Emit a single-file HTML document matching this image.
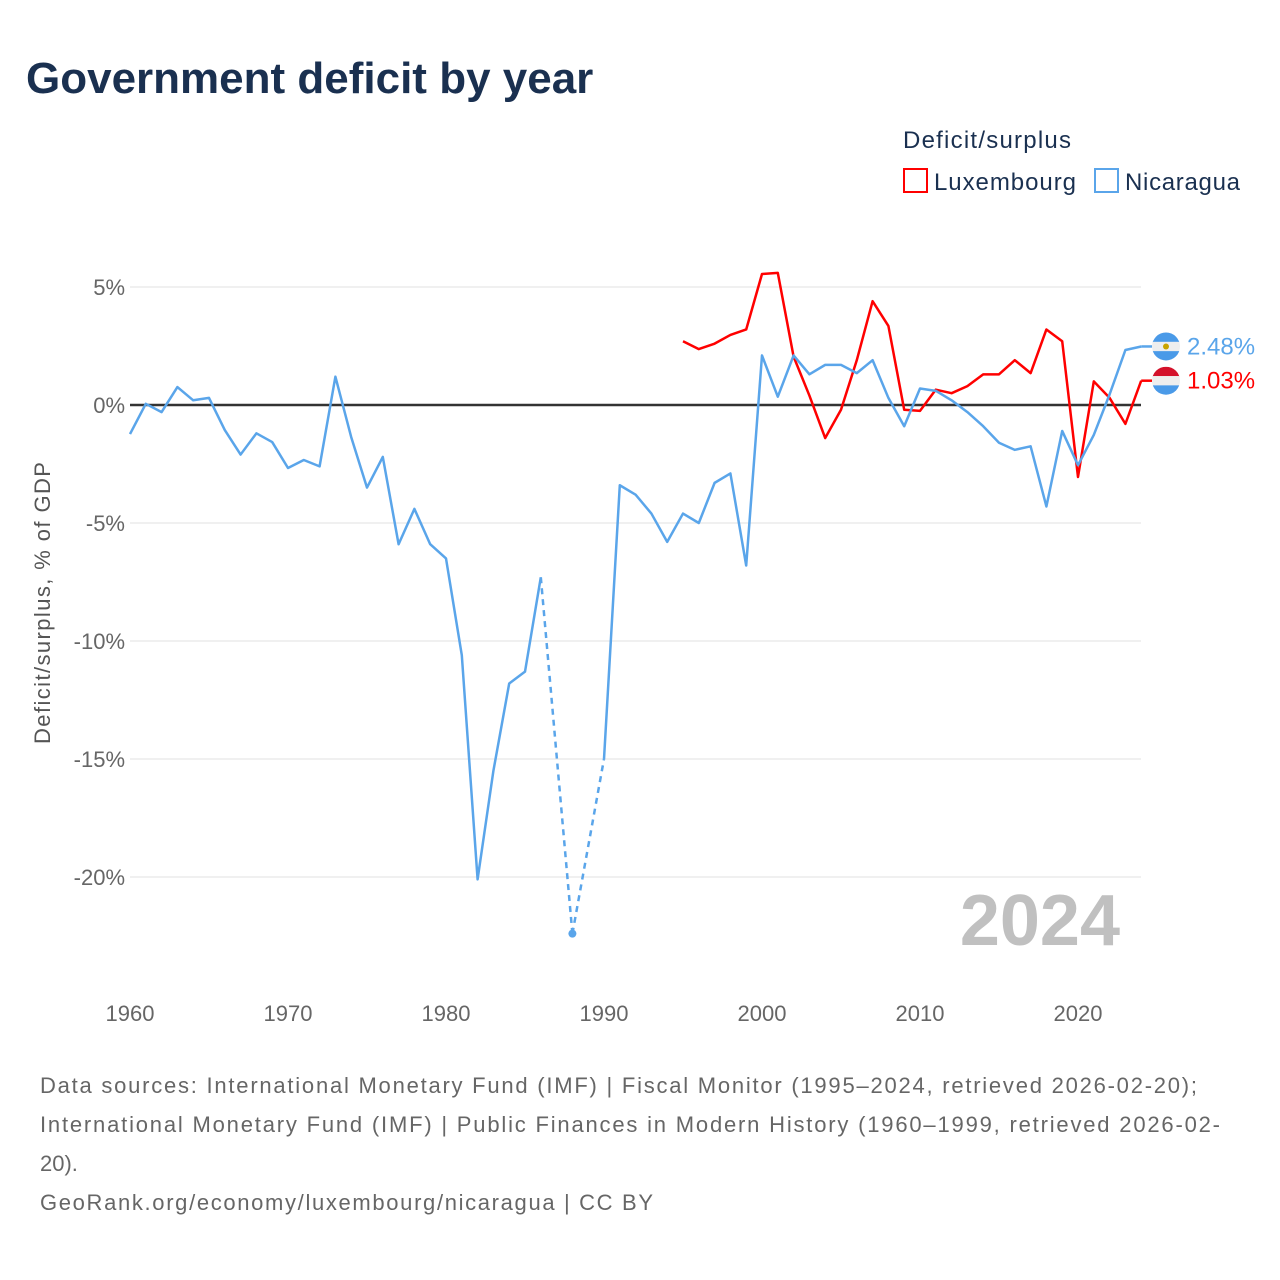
<!DOCTYPE html>
<html><head><meta charset="utf-8"><style>
body{margin:0;background:#fff;font-family:"Liberation Sans",sans-serif;}
#wrap{position:relative;width:1280px;height:1280px;overflow:hidden;}
</style></head><body><div id="wrap">
<svg id="chart" width="1280" height="1280" xmlns="http://www.w3.org/2000/svg">
<text x="26" y="93" font-size="44" font-weight="bold" fill="#1a3050">Government deficit by year</text>
<text x="903" y="148" font-size="24" fill="#1a3050" textLength="168">Deficit/surplus</text>
<g><rect x="904" y="169" width="23" height="23" fill="none" stroke="#ff0000" stroke-width="2"/><text x="934" y="190" font-size="24" fill="#1a3050" textLength="142">Luxembourg</text></g>
<g><rect x="1095" y="169" width="23" height="23" fill="none" stroke="#5aa5ea" stroke-width="2"/><text x="1125" y="190" font-size="24" fill="#1a3050" textLength="115">Nicaragua</text></g>
<text transform="translate(50,603) rotate(-90)" text-anchor="middle" font-size="22" fill="#555" textLength="282">Deficit/surplus, % of GDP</text>
<text x="1120" y="945" text-anchor="end" font-size="72" font-weight="bold" fill="#c0c0c0">2024</text>
<g id="grid"></g><g id="series"></g>
<g font-size="22" fill="#666">
<text x="40" y="1093" textLength="1157">Data sources: International Monetary Fund (IMF) | Fiscal Monitor (1995–2024, retrieved 2026-02-20);</text>
<text x="40" y="1132" textLength="1180">International Monetary Fund (IMF) | Public Finances in Modern History (1960–1999, retrieved 2026-02-</text>
<text x="40" y="1171">20).</text>
<text x="40" y="1210" textLength="613">GeoRank.org/economy/luxembourg/nicaragua | CC BY</text>
</g>
</svg></div>
<script>
const years=[];for(let y=1960;y<=2024;y++)years.push(y);
const yTicks=[5,0,-5,-10,-15,-20];
const xTicks=[1960,1970,1980,1990,2000,2010,2020];
const nicaragua=[-1.23,0.05,-0.3,0.76,0.2,0.3,-1.06,-2.1,-1.2,-1.57,-2.67,-2.33,-2.6,1.2,-1.36,-3.5,-2.2,-5.9,-4.4,-5.9,-6.5,-10.6,-20.1,-15.5,-11.8,-11.3,-7.3,null,-22.4,null,-15.0,-3.4,-3.8,-4.6,-5.8,-4.6,-5.0,-3.3,-2.9,-6.8,2.1,0.35,2.1,1.3,1.7,1.7,1.35,1.9,0.3,-0.9,0.7,0.6,0.2,-0.3,-0.9,-1.6,-1.9,-1.75,-4.3,-1.1,-2.55,-1.27,0.45,2.33,2.48];
const luxYears=[];for(let y=1995;y<=2024;y++)luxYears.push(y);
const luxembourg=[2.7,2.37,2.6,2.97,3.2,5.55,5.6,2.05,0.4,-1.4,-0.2,1.9,4.4,3.35,-0.2,-0.25,0.65,0.5,0.8,1.3,1.3,1.9,1.35,3.2,2.7,-3.05,1.0,0.3,-0.8,1.03];
const X=y=>130+15.8*(y-1960), Y=v=>405-23.6*v;
const NS="http://www.w3.org/2000/svg";
function mk(t,a,p){const e=document.createElementNS(NS,t);for(const k in a)e.setAttribute(k,a[k]);p.appendChild(e);return e;}
const grid=document.getElementById('grid'), ser=document.getElementById('series');
yTicks.forEach(v=>{
 const l=mk('line',{x1:130,x2:1141,y1:Y(v),y2:Y(v),stroke:v===0?'#333':'#e6e6e6','stroke-width':v===0?2.5:1.2},grid);
 
 
 const t=mk('text',{x:125,y:Y(v)+8,'text-anchor':'end','font-size':22,fill:'#666'},grid);
 t.textContent=v+'%';
 
 
});
xTicks.forEach(y=>{
 const t=mk('text',{x:X(y),y:1021,'text-anchor':'middle','font-size':22,fill:'#666'},grid);
 t.textContent=y;
 
 
});
function draw(xs,vals,color,name){
 let segs=[],cur=[];
 xs.forEach((y,i)=>{if(vals[i]==null){if(cur.length)segs.push(cur);cur=[];}else cur.push([X(y),Y(vals[i])]);});
 if(cur.length)segs.push(cur);
 segs.forEach(s=>{if(s.length>1){const p=mk('path',{d:'M'+s.map(q=>q.join(',')).join('L'),fill:'none',stroke:color,'stroke-width':2.5,'stroke-linejoin':'round'},ser);
  
  }});
 for(let i=1;i<xs.length;i++){if(vals[i]!=null){let j=i-1;if(vals[j]==null){while(j>=0&&vals[j]==null)j--;if(j>=0){const d=mk('line',{x1:X(xs[j]),y1:Y(vals[j]),x2:X(xs[i]),y2:Y(vals[i]),stroke:color,'stroke-width':2.5,'stroke-dasharray':'6,5'},ser);
  
  
  if(i+1<xs.length&&vals[i+1]==null&&vals[i-1]==null){const c=mk('circle',{cx:X(xs[i]),cy:Y(vals[i]),r:4,fill:color},ser);
  
  }}}}}
 const lv=vals[vals.length-1];
 const e=mk('line',{x1:X(xs[xs.length-1]),y1:Y(lv),x2:1152,y2:Y(lv),stroke:color,'stroke-width':2.5},ser);
 
 
}
draw(luxYears,luxembourg,'#ff0000','luxembourg');
draw(years,nicaragua,'#5aa5ea','nicaragua');
function endLabel(v,color,name,flag){
 const g=mk('g',{},ser);
 
 
 const cy=Y(v), cx=1166;
 mk('clipPath',{id:'c'+name},g).appendChild(document.createElementNS(NS,'circle')).setAttribute('r',0);
 const cl=document.getElementById('c'+name).firstChild;cl.setAttribute('cx',cx);cl.setAttribute('cy',cy);cl.setAttribute('r',14);
 const stripes=flag==='lu'?['#d4122b','#eeeeee','#4a9ae8']:['#4a9ae8','#eeeeee','#4a9ae8'];
 stripes.forEach((c,i)=>mk('rect',{x:cx-14,y:cy-14+i*28/3,width:28,height:28/3+0.5,fill:c,'clip-path':'url(#c'+name+')'},g));
 if(flag==='ni')mk('circle',{cx:cx,cy:cy,r:3,fill:'#c9a400'},g);
 const t=mk('text',{x:1187,y:cy+8,'font-size':24,fill:color},g);
 t.textContent=v.toFixed(2)+'%';
}
endLabel(nicaragua[nicaragua.length-1],'#5aa5ea','nicaragua','ni');
endLabel(luxembourg[luxembourg.length-1],'#ff0000','luxembourg','lu');
</script></body></html>
